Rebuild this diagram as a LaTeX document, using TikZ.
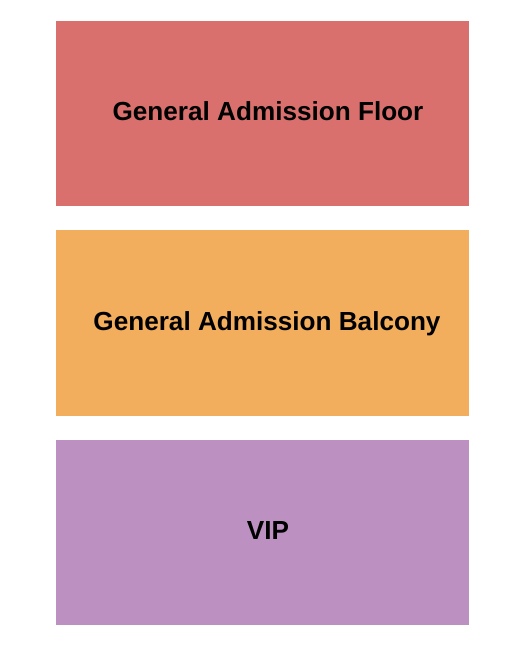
\documentclass[tikz,border=0pt]{standalone}
\usepackage{fontspec}
\setmainfont{Liberation Sans}
\definecolor{floorred}{HTML}{D9706E}
\definecolor{balconyorange}{HTML}{F2AE5C}
\definecolor{vippurple}{HTML}{BD90C2}
\tikzset{sectionlabel/.style={anchor=base,inner sep=0pt,font=\bfseries\fontsize{19.6}{23}\selectfont}}
\begin{document}
\begin{tikzpicture}[x=0.75pt,y=-0.75pt]
				\useasboundingbox (0,0) rectangle (525,650);
				\fill[floorred] (56,21) rectangle (469,206);
				\fill[balconyorange] (56,230) rectangle (469,416);
				\fill[vippurple] (56,440) rectangle (469,625);
				\node[sectionlabel] (floor) at (268,120) {General Admission Floor};
				\node[sectionlabel] (balcony) at (267,330) {General Admission Balcony};
				\node[sectionlabel] (vip) at (268,539) {VIP};
			\end{tikzpicture}
\end{document}
